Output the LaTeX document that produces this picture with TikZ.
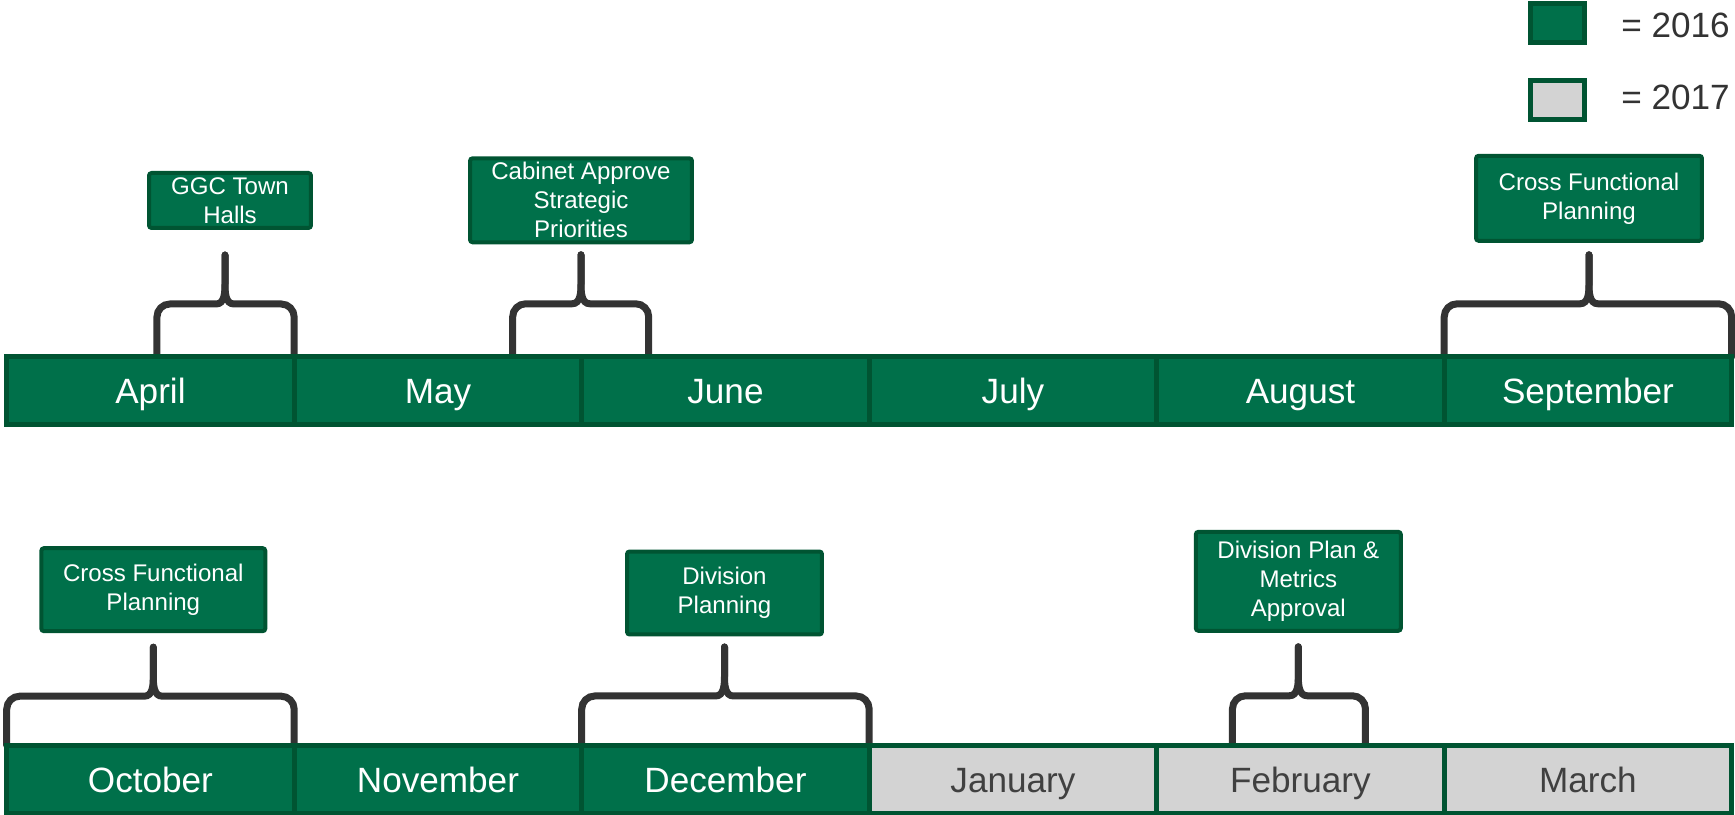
\documentclass[tikz,border=0pt]{standalone}
\usepackage{fontspec}
\setmainfont{Liberation Sans}
\usetikzlibrary{backgrounds}

\definecolor{ggreen}{RGB}{0,112,74}
\definecolor{gdark}{RGB}{0,84,50}
\definecolor{lgray}{RGB}{211,211,211}
\definecolor{mgray}{RGB}{64,64,64}
\definecolor{bgray}{RGB}{51,51,51}

\begin{document}
\begin{tikzpicture}[x=0.02cm,y=0.02cm,
    month/.style={draw=gdark,fill=ggreen,line width=0.1cm,minimum width=5.75cm,
        minimum height=1.36cm,inner sep=0,outer sep=0,text=white,
        text height=14.3pt,text depth=0pt,
        font=\fontsize{20}{24}\selectfont},
    nextyear/.style={month,fill=lgray,text=mgray},
    event/.style={draw=gdark,fill=ggreen,line width=0.08cm,rounded corners=1.5pt,
        inner sep=0,outer sep=0,text=white,align=center,
        font=\fontsize{13.7}{16.5}\selectfont},
    bracket/.style={draw=bgray,line width=0.14cm,line cap=round}]
    \useasboundingbox (0,0) rectangle (1735,815);

    % legend
    \node[month,minimum width=1.08cm,minimum height=0.78cm] (leg16) at (1557.5,792) {};
    \node[nextyear,minimum width=1.08cm,minimum height=0.78cm] (leg17) at (1557.5,715) {};
    \node[anchor=west,inner sep=0,text=bgray,font=\fontsize{20}{24}\selectfont] (txt16) at (1621,789.7) {= 2016};
    \node[anchor=west,inner sep=0,text=bgray,font=\fontsize{20}{24}\selectfont] (txt17) at (1621,717.5) {= 2017};

    % first half
    \node[month] (apr) at (150.45,424.5) {April};
    \node[month] (may) at (437.95,424.5) {May};
    \node[month] (jun) at (725.45,424.5) {June};
    \node[month] (jul) at (1012.95,424.5) {July};
    \node[month] (aug) at (1300.45,424.5) {August};
    \node[month] (sep) at (1587.95,424.5) {September};

    % second half
    \node[month] (oct) at (150.45,35.5) {October};
    \node[month] (nov) at (437.95,35.5) {November};
    \node[month] (dec) at (725.45,35.5) {December};
    \node[nextyear] (jan) at (1012.95,35.5) {January};
    \node[nextyear] (feb) at (1300.45,35.5) {February};
    \node[nextyear] (mar) at (1587.95,35.5) {March};

    % events
    \node[event,minimum width=3.24cm,minimum height=1.1cm] (ggc) at (230,614.5) {GGC Town\\Halls};
    \node[event,minimum width=4.44cm,minimum height=1.68cm] (cab) at (581,614.7) {Cabinet Approve\\Strategic\\Priorities};
    \node[event,minimum width=4.52cm,minimum height=1.7cm] (cfp1) at (1589,616.7) {Cross Functional\\Planning};
    \node[event,minimum width=4.48cm,minimum height=1.66cm] (cfp2) at (153.3,225.3) {Cross Functional\\Planning};
    \node[event,minimum width=3.9cm,minimum height=1.66cm] (divp) at (724.5,222) {Division\\Planning};
    \node[event,minimum width=4.1cm,minimum height=1.98cm] (divm) at (1298.3,233.7) {Division Plan \&\\Metrics\\Approval};

    \begin{scope}[on background layer]
    \draw[bracket] ([xshift=-0.1cm,yshift=-0.54cm]ggc.south) -- ++(0,-29) to[out=-90,in=0] ++(-9,-20)
        [rounded corners=0.26cm] -| ([xshift=0.13cm]apr.north);
    \draw[bracket] ([xshift=-0.1cm,yshift=-0.54cm]ggc.south) -- ++(0,-29) to[out=-90,in=180] ++(9,-20)
        [rounded corners=0.26cm] -| (apr.north east);

    \draw[bracket] ([yshift=-0.25cm]cab.south) -- ++(0,-29) to[out=-90,in=0] ++(-9,-20)
        [rounded corners=0.26cm] -| ([xshift=-1.38cm]may.north east);
    \draw[bracket] ([yshift=-0.25cm]cab.south) -- ++(0,-29) to[out=-90,in=180] ++(9,-20)
        [rounded corners=0.26cm] -| ([xshift=1.34cm]jun.north west);

    \draw[bracket] ([yshift=-0.28cm]cfp1.south) -- ++(0,-29) to[out=-90,in=0] ++(-9,-20)
        [rounded corners=0.26cm] -| (sep.north west);
    \draw[bracket] ([yshift=-0.28cm]cfp1.south) -- ++(0,-29) to[out=-90,in=180] ++(9,-20)
        [rounded corners=0.26cm] -| (sep.north east);

    \draw[bracket] ([yshift=-0.32cm]cfp2.south) -- ++(0,-29) to[out=-90,in=0] ++(-9,-20)
        [rounded corners=0.26cm] -| (oct.north west);
    \draw[bracket] ([yshift=-0.32cm]cfp2.south) -- ++(0,-29) to[out=-90,in=180] ++(9,-20)
        [rounded corners=0.26cm] -| (oct.north east);

    \draw[bracket] ([yshift=-0.25cm]divp.south) -- ++(0,-29) to[out=-90,in=0] ++(-9,-20)
        [rounded corners=0.26cm] -| (dec.north west);
    \draw[bracket] ([yshift=-0.25cm]divp.south) -- ++(0,-29) to[out=-90,in=180] ++(9,-20)
        [rounded corners=0.26cm] -| (dec.north east);

    \draw[bracket] ([yshift=-0.32cm]divm.south) -- ++(0,-29) to[out=-90,in=0] ++(-9,-20)
        [rounded corners=0.26cm] -| ([xshift=-1.36cm]feb.north);
    \draw[bracket] ([yshift=-0.32cm]divm.south) -- ++(0,-29) to[out=-90,in=180] ++(9,-20)
        [rounded corners=0.26cm] -| ([xshift=1.3cm]feb.north);
    \end{scope}
\end{tikzpicture}
\end{document}
